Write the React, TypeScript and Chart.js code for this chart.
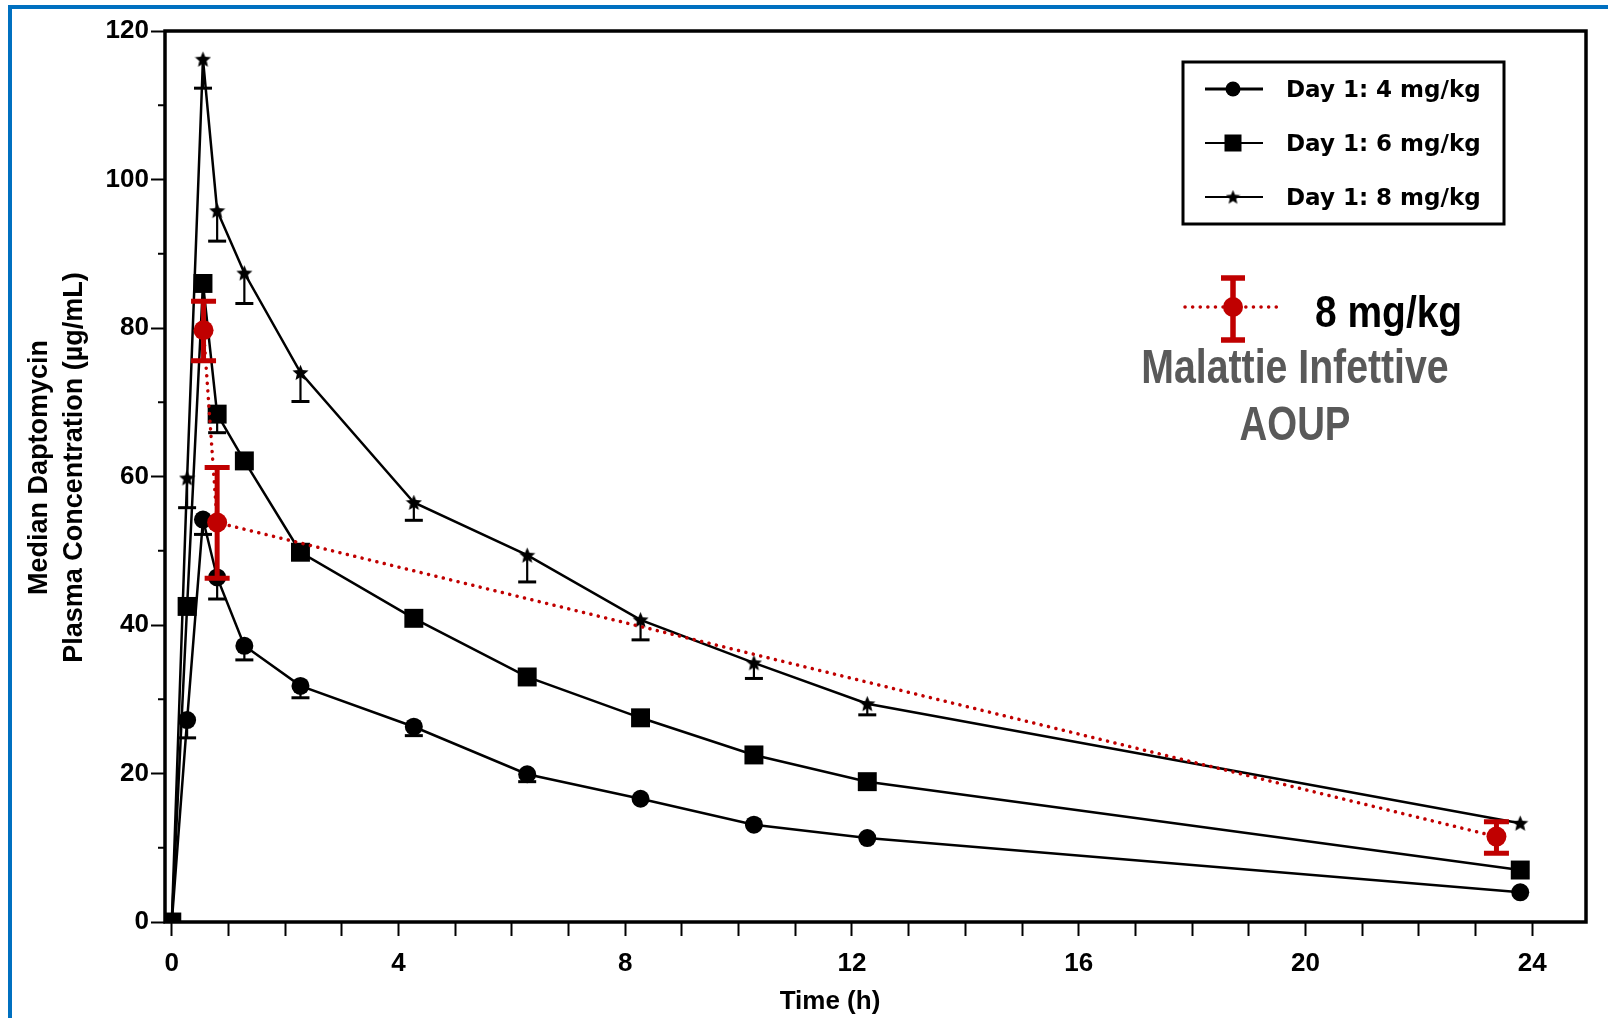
import React, { useEffect, useRef } from "react";
import { Chart, registerables } from "chart.js";

Chart.register(...registerables);

// ---- data ----
const timesBlack = [0, 0.27, 0.55, 0.8, 1.28, 2.27, 4.27, 6.27, 8.27, 10.27, 12.27, 23.79];
const conc4 = [0, 27.2, 54.2, 46.4, 37.2, 31.8, 26.3, 19.9, 16.6, 13.1, 11.3, 4.0];
const conc4Low = [null, 24.8, 52.2, 43.5, 35.3, 30.2, 25.1, 18.9, null, null, null, null];
const conc6 = [0, 42.5, 86.0, 68.4, 62.1, 49.8, 40.9, 33.0, 27.5, 22.5, 18.9, 7.0];
const conc6Low = [null, null, null, 65.9, null, null, null, null, null, null, null, null];
const conc8 = [0, 59.8, 116.2, 95.8, 87.4, 74.0, 56.5, 49.4, 40.7, 34.9, 29.4, 13.3];
const conc8Low = [null, 55.8, 112.3, 91.7, 83.3, 70.1, 54.1, 45.8, 38.0, 32.8, 27.9, null];

const timesAoup = [0.56, 0.8, 23.37];
const concAoup = [79.7, 53.8, 11.5];
const concAoupLow = [75.6, 46.3, 9.25];
const concAoupHigh = [83.6, 61.2, 13.5];

const seriesLabels = ["Day 1: 4 mg/kg", "Day 1: 6 mg/kg", "Day 1: 8 mg/kg"];
const aoupLabel = "8 mg/kg";
const aoupSource = ["Malattie Infettive", "AOUP"];

const xTicks = [0, 1, 2, 3, 4, 5, 6, 7, 8, 9, 10, 11, 12, 13, 14, 15, 16, 17, 18, 19, 20, 21, 22, 23, 24];
const xLabelled = [0, 4, 8, 12, 16, 20, 24];
const yTicks = [0, 10, 20, 30, 40, 50, 60, 70, 80, 90, 100, 110, 120];
const yLabelled = [0, 20, 40, 60, 80, 100, 120];

const xTitle = "Time (h)";
const yTitle = ["Median Daptomycin", "Plasma Concentration (\u00b5g/mL)"];

// ---- styles ----
const SANS = "'Liberation Sans', Arial, Helvetica, sans-serif";
const WIDE = "'DejaVu Sans', Verdana, sans-serif";
const RED = "#C00000";
const GREY = "#595959";
const BLUE = "#0070C0";

function makeStar(size: number, color: string) {
  const c = document.createElement("canvas");
  c.width = size;
  c.height = size;
  const g = c.getContext("2d")!;
  g.fillStyle = color;
  g.beginPath();
  const cx = size / 2;
  const cy = size / 2 + size * 0.04;
  const R = size / 2;
  const r = R * 0.45;
  for (let i = 0; i < 10; i++) {
    const a = -Math.PI / 2 + (i * Math.PI) / 5;
    const rad = i % 2 ? r : R;
    g.lineTo(cx + rad * Math.cos(a), cy + rad * Math.sin(a));
  }
  g.closePath();
  g.fill();
  return c;
}

function drawText(
  ctx: CanvasRenderingContext2D,
  text: string,
  x: number,
  y: number,
  font: string,
  color: string,
  align: CanvasTextAlign,
  sx = 1,
  rot = 0
) {
  ctx.save();
  ctx.font = font;
  ctx.fillStyle = color;
  ctx.textAlign = align;
  ctx.textBaseline = "alphabetic";
  ctx.translate(x, y);
  if (rot) ctx.rotate(rot);
  ctx.scale(sx, 1);
  ctx.fillText(text, 0, 0);
  ctx.restore();
}

export default function App() {
  const ref = useRef<HTMLCanvasElement>(null);

  useEffect(() => {
    const canvas = ref.current!;
    const star = makeStar(17, "#000");
    const legendStar = makeStar(15, "#000");
    const pts = (xs: number[], ys: number[]) => xs.map((t, i) => ({ x: t, y: ys[i] }));

    const blackErr = [
      { ys: conc4, lows: conc4Low },
      { ys: conc6, lows: conc6Low },
      { ys: conc8, lows: conc8Low },
    ];

    const decor = {
      id: "decor",
      beforeDatasetsDraw(chart: any) {
        const { ctx, scales } = chart;
        const { x, y } = scales;
        ctx.save();
        ctx.strokeStyle = "#000";
        blackErr.forEach(({ ys, lows }) => {
          timesBlack.forEach((t, i) => {
            const lo = lows[i];
            if (lo === null || lo === undefined) return;
            const px = x.getPixelForValue(t);
            const py = y.getPixelForValue(ys[i]);
            const pl = y.getPixelForValue(lo);
            ctx.lineWidth = 2.2;
            ctx.beginPath();
            ctx.moveTo(px, py);
            ctx.lineTo(px, pl);
            ctx.stroke();
            ctx.lineWidth = 3;
            ctx.beginPath();
            ctx.moveTo(px - 9, pl);
            ctx.lineTo(px + 9, pl);
            ctx.stroke();
          });
        });
        ctx.restore();
      },
      afterDatasetsDraw(chart: any) {
        const { ctx, scales, chartArea } = chart;
        const { x, y } = scales;
        ctx.save();
        // red error bars
        ctx.strokeStyle = RED;
        timesAoup.forEach((t, i) => {
          const px = x.getPixelForValue(t);
          const pl = y.getPixelForValue(concAoupLow[i]);
          const ph = y.getPixelForValue(concAoupHigh[i]);
          ctx.lineWidth = 5;
          ctx.beginPath();
          ctx.moveTo(px, pl);
          ctx.lineTo(px, ph);
          ctx.stroke();
          ctx.beginPath();
          ctx.moveTo(px - 12.5, pl);
          ctx.lineTo(px + 12.5, pl);
          ctx.moveTo(px - 12.5, ph);
          ctx.lineTo(px + 12.5, ph);
          ctx.stroke();
        });
        // frame
        ctx.strokeStyle = "#000";
        ctx.lineWidth = 3.5;
        ctx.strokeRect(chartArea.left, chartArea.top, chartArea.right - chartArea.left, chartArea.bottom - chartArea.top);
        // minor y ticks
        ctx.lineWidth = 2;
        yTicks.forEach((v) => {
          if (yLabelled.includes(v)) return;
          const py = y.getPixelForValue(v);
          ctx.beginPath();
          ctx.moveTo(chartArea.left - 7, py);
          ctx.lineTo(chartArea.left, py);
          ctx.stroke();
        });
        ctx.restore();

        // axis titles
        const cx = (x.getPixelForValue(xTicks[0]) + x.getPixelForValue(xTicks[xTicks.length - 1])) / 2 - 22;
        drawText(ctx, xTitle, cx, 1009, `bold 26px ${SANS}`, "#000", "center");
        const cy = (chartArea.top + chartArea.bottom) / 2 - 9;
        drawText(ctx, yTitle[0], 47, cy, `bold 27px ${SANS}`, "#000", "center", 1, -Math.PI / 2);
        drawText(ctx, yTitle[1], 82, cy, `bold 27px ${SANS}`, "#000", "center", 1, -Math.PI / 2);

        // legend box
        ctx.save();
        const lx = 1183;
        const ly = 62;
        ctx.strokeStyle = "#000";
        ctx.lineWidth = 3;
        ctx.strokeRect(lx, ly, 321, 162);
        const rows = [89, 143, 197];
        const lineW = [3, 1.8, 1.8];
        rows.forEach((ry, i) => {
          ctx.strokeStyle = "#000";
          ctx.lineWidth = lineW[i];
          ctx.beginPath();
          ctx.moveTo(1205, ry);
          ctx.lineTo(1263, ry);
          ctx.stroke();
          ctx.fillStyle = "#000";
          if (i === 0) {
            ctx.beginPath();
            ctx.arc(1233, ry, 7.5, 0, Math.PI * 2);
            ctx.fill();
          } else if (i === 1) {
            ctx.fillRect(1233 - 8.5, ry - 8.5, 17, 17);
          } else {
            ctx.drawImage(legendStar, 1233 - 7.5, ry - 7.5);
          }
          drawText(ctx, seriesLabels[i], 1286, ry + 8, `bold 23px ${WIDE}`, "#000", "left");
        });
        // red sample
        const sy = 307;
        ctx.strokeStyle = RED;
        ctx.lineWidth = 3.5;
        ctx.lineCap = "round";
        ctx.setLineDash([0.1, 7.5]);
        ctx.beginPath();
        ctx.moveTo(1185, sy);
        ctx.lineTo(1277, sy);
        ctx.stroke();
        ctx.setLineDash([]);
        ctx.lineCap = "butt";
        ctx.lineWidth = 5.5;
        ctx.beginPath();
        ctx.moveTo(1233, 278);
        ctx.lineTo(1233, 340);
        ctx.moveTo(1221, 278);
        ctx.lineTo(1245, 278);
        ctx.moveTo(1221, 340);
        ctx.lineTo(1245, 340);
        ctx.stroke();
        ctx.fillStyle = RED;
        ctx.beginPath();
        ctx.arc(1233, sy, 10, 0, Math.PI * 2);
        ctx.fill();
        ctx.restore();

        drawText(ctx, aoupLabel, 1315, 327, `bold 44px ${SANS}`, "#000", "left", 0.885);
        drawText(ctx, aoupSource[0], 1295, 383, `bold 48px ${SANS}`, GREY, "center", 0.817);
        drawText(ctx, aoupSource[1], 1295, 440, `bold 48px ${SANS}`, GREY, "center", 0.8);
      },
    };

    const tickFont = { family: SANS, size: 26, weight: "bold" as const };

    const chart = new Chart(canvas, {
      type: "line",
      data: {
        datasets: [
          {
            label: aoupLabel,
            data: pts(timesAoup, concAoup),
            borderColor: RED,
            backgroundColor: RED,
            borderWidth: 3.5,
            borderDash: [0.1, 7.5],
            borderCapStyle: "round",
            pointRadius: 10,
            pointBackgroundColor: RED,
            pointBorderWidth: 0,
            tension: 0,
            order: 0,
          },
          {
            label: seriesLabels[2],
            data: pts(timesBlack, conc8),
            borderColor: "#000",
            backgroundColor: "#000",
            borderWidth: 2.5,
            pointStyle: star as any,
            pointRadius: 8.5,
            tension: 0,
            order: 1,
          },
          {
            label: seriesLabels[1],
            data: pts(timesBlack, conc6),
            borderColor: "#000",
            backgroundColor: "#000",
            borderWidth: 2.5,
            pointStyle: "rect",
            pointRadius: 13.4,
            pointBackgroundColor: "#000",
            pointBorderWidth: 0,
            tension: 0,
            order: 2,
          },
          {
            label: seriesLabels[0],
            data: pts(timesBlack, conc4),
            borderColor: "#000",
            backgroundColor: "#000",
            borderWidth: 2.5,
            pointStyle: "circle",
            pointRadius: 9,
            pointBackgroundColor: "#000",
            pointBorderWidth: 0,
            tension: 0,
            order: 3,
          },
        ],
      },
      options: {
        animation: false,
        responsive: false,
        events: [],
        layout: { padding: { left: 0, top: 31, right: 22, bottom: 0 } },
        plugins: { legend: { display: false }, tooltip: { enabled: false } },
        scales: {
          x: {
            type: "linear",
            min: -0.12,
            max: 24.95,
            afterFit: (s: any) => {
              s.height = 96;
            },
            afterBuildTicks: (s: any) => {
              s.ticks = xTicks.map((v) => ({ value: v }));
            },
            ticks: {
              autoSkip: false,
              maxRotation: 0,
              padding: 12,
              color: "#000",
              font: tickFont,
              callback: (v: any) => (xLabelled.includes(Number(v)) ? String(v) : ""),
            },
            grid: { drawOnChartArea: false, tickLength: 14, tickWidth: 2, tickColor: "#000" },
            border: { display: false },
          },
          y: {
            type: "linear",
            min: 0,
            max: 120,
            afterFit: (s: any) => {
              s.width = 165;
            },
            afterBuildTicks: (s: any) => {
              s.ticks = yTicks.map((v) => ({ value: v }));
            },
            ticks: {
              autoSkip: false,
              padding: 2,
              color: "#000",
              font: tickFont,
              callback: (v: any) => (yLabelled.includes(Number(v)) ? String(v) : ""),
            },
            grid: {
              drawOnChartArea: false,
              tickLength: 14,
              tickWidth: 2,
              tickColor: (c: any) => (yLabelled.includes(c.tick?.value) ? "#000" : "rgba(0,0,0,0)"),
            },
            border: { display: false },
          },
        },
      },
      plugins: [decor],
    });
    return () => chart.destroy();
  }, []);

  return (
    <div style={{ position: "fixed", left: 0, top: 0, width: 1608, height: 1018, background: "#fff", overflow: "hidden" }}>
      <canvas ref={ref} width={1608} height={1018} style={{ display: "block" }} />
      <div
        style={{
          position: "absolute",
          left: 8,
          top: 5,
          width: 1700,
          height: 1100,
          borderLeft: `4px solid ${BLUE}`,
          borderTop: `4px solid ${BLUE}`,
          pointerEvents: "none",
        }}
      />
    </div>
  );
}
